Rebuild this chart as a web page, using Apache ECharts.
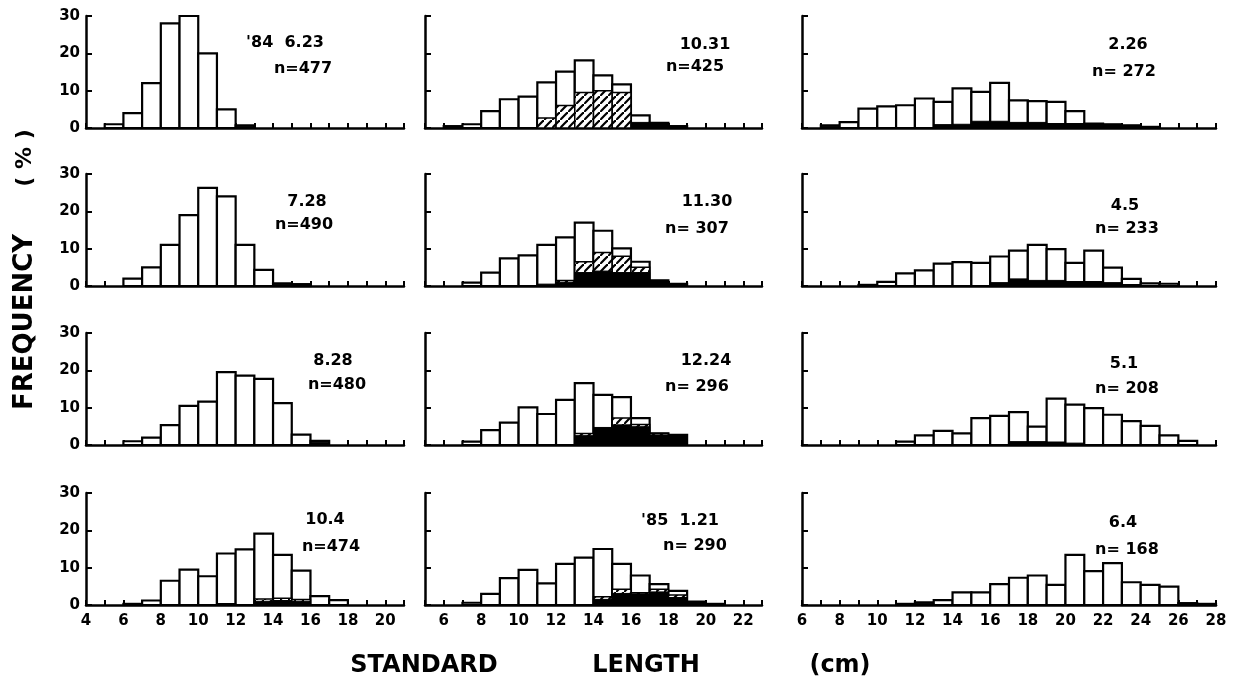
<!DOCTYPE html>
<html>
<head>
<meta charset="utf-8">
<script src="https://cdn.jsdelivr.net/npm/echarts@6/dist/echarts.min.js"></script>
<style>
  html, body { margin: 0; padding: 0; background: #fff; }
  #chart { width: 1235px; height: 691px; }
</style>
</head>
<body>
<div id="chart"></div>
<script>
// bin starts (cm) for each column of panels, every bin is 1 cm wide
const binsA = [4, 5, 6, 7, 8, 9, 10, 11, 12, 13, 14, 15, 16, 17, 18, 19, 20];
const binsB = [5, 6, 7, 8, 9, 10, 11, 12, 13, 14, 15, 16, 17, 18, 19, 20, 21, 22];
const binsC = [6, 7, 8, 9, 10, 11, 12, 13, 14, 15, 16, 17, 18, 19, 20, 21, 22, 23, 24, 25, 26, 27];

// column 1 ('84 6.23 .. 10.4), values in %
const jun23Total = [0, 1, 4, 12, 28, 30, 20, 5, 0.7];
const jun23Black = [0, 0, 0, 0, 0, 0, 0, 0, 0.5];
const jul28Total = [0, 0, 2, 5, 11, 19, 26.3, 24, 11, 4.3, 0.7, 0.5];
const jul28Black = [0, 0, 0, 0, 0, 0, 0, 0, 0, 0, 0.5, 0.4];
const aug28Total = [0, 0, 1, 2, 5.3, 10.5, 11.6, 19.5, 18.6, 17.7, 11.2, 2.8, 1.1];
const aug28Black = [0, 0, 0, 0, 0, 0, 0, 0, 0, 0, 0, 0, 0.7];
const oct4Total = [0, 0, 0.3, 1.2, 6.5, 9.5, 7.7, 13.8, 14.9, 19.1, 13.4, 9.2, 2.4, 1.3];
const oct4Hatch = [0, 0, 0, 0, 0, 0, 0, 0, 0, 1.6, 1.8, 1.5];
const oct4Black = [0, 0, 0, 0, 0, 0, 0, 0.4, 0, 1.0, 1.2, 1.0];

// column 2 (10.31 .. '85 1.21)
const oct31Total = [0, 0.5, 1, 4.5, 7.7, 8.4, 12.2, 15.1, 18.1, 14.1, 11.7, 3.4, 1.4, 0.5];
const oct31Hatch = [0, 0, 0, 0, 0, 0, 2.7, 6, 9.5, 10, 9.5];
const oct31Black = [0, 0, 0, 0, 0, 0, 0, 0, 0, 0, 0, 1.5, 1.2, 0.5];
const nov30Total = [0, 0, 0.9, 3.6, 7.4, 8.2, 11, 13, 17, 14.8, 10.1, 6.5, 1.5, 0.6];
const nov30Hatch = [0, 0, 0, 0, 0, 0, 0, 1.5, 6.5, 9, 8, 5];
const nov30Black = [0, 0, 0, 0, 0, 0, 0.5, 1, 3.6, 4, 3.6, 3.6, 1.5, 0.6];
const dec24Total = [0, 0, 0.9, 4, 6, 10.1, 8.3, 12.1, 16.6, 13.4, 12.8, 7.2, 3.1, 2.7];
const dec24Hatch = [0, 0, 0, 0, 0, 0, 0, 0, 3.1, 0, 7.2, 5.5, 3.1];
const dec24Black = [0, 0, 0, 0, 0, 0, 0, 0, 2.5, 4.7, 5.4, 4.9, 2.7, 2.5];
const jan21Total = [0, 0, 0.6, 3, 7.2, 9.4, 5.8, 11, 12.7, 15, 11, 7.9, 5.6, 3.8, 0.9, 0.3];
const jan21Hatch = [0, 0, 0, 0, 0, 0, 0, 0, 0, 2.2, 4.2, 3.3, 4.2, 2.7];
const jan21Black = [0, 0, 0, 0, 0, 0, 0, 0, 0, 1.5, 3.1, 3, 3.5, 2, 0.9, 0.3];

// column 3 (2.26 .. 6.4)
const feb26Total = [0, 0.7, 1.6, 5.2, 5.8, 6.1, 7.9, 7, 10.6, 9.7, 12.1, 7.4, 7.2, 7, 4.5, 1.2, 1, 0.7, 0.3];
const feb26Black = [0, 0.5, 0, 0, 0, 0, 0, 0.9, 1, 1.8, 1.8, 1.5, 1.5, 1.2, 1.2, 1.2, 1, 0.7, 0.3];
const may4Total = [0, 0, 0, 0.3, 1.1, 3.4, 4.2, 6, 6.4, 6.2, 7.9, 9.5, 11, 9.9, 6.2, 9.5, 4.9, 1.9, 0.7, 0.6];
const may4Black = [0, 0, 0, 0.3, 0, 0, 0, 0, 0, 0, 0.9, 1.9, 1.5, 1.5, 1.2, 1.2, 0.9, 0.4];
const may1Total = [0, 0, 0, 0, 0, 0.9, 2.6, 3.8, 3.1, 7.2, 7.8, 8.8, 4.9, 12.4, 10.8, 9.9, 8.1, 6.4, 5.1, 2.6, 1.1];
const may1Black = [0, 0, 0, 0, 0, 0, 0, 0, 0, 0, 0, 0.9, 0.9, 0.8, 0.5];
const jun4Total = [0, 0, 0, 0, 0, 0.3, 0.7, 1.3, 3.4, 3.4, 5.6, 7.3, 7.9, 5.4, 13.4, 9.1, 11.2, 6.1, 5.4, 4.9, 0.5, 0.3];
const jun4Black = [0, 0, 0, 0, 0, 0.3, 0.5];

const dateLabels = ["'84  6.23", '10.31', '2.26', '7.28', '11.30', '4.5',
                    '8.28', '12.24', '5.1', '10.4', "'85  1.21", '6.4'];
const nLabels = ['n=477', 'n=425', 'n= 272', 'n=490', 'n= 307', 'n= 233',
                 'n=480', 'n= 296', 'n= 208', 'n=474', 'n= 290', 'n= 168'];

// panels row by row
const panels = [
  { bins: binsA, total: jun23Total, hatch: [], black: jun23Black },
  { bins: binsB, total: oct31Total, hatch: oct31Hatch, black: oct31Black },
  { bins: binsC, total: feb26Total, hatch: [], black: feb26Black },
  { bins: binsA, total: jul28Total, hatch: [], black: jul28Black },
  { bins: binsB, total: nov30Total, hatch: nov30Hatch, black: nov30Black },
  { bins: binsC, total: may4Total, hatch: [], black: may4Black },
  { bins: binsA, total: aug28Total, hatch: [], black: aug28Black },
  { bins: binsB, total: dec24Total, hatch: dec24Hatch, black: dec24Black },
  { bins: binsC, total: may1Total, hatch: [], black: may1Black },
  { bins: binsA, total: oct4Total, hatch: oct4Hatch, black: oct4Black },
  { bins: binsB, total: jan21Total, hatch: jan21Hatch, black: jan21Black },
  { bins: binsC, total: jun4Total, hatch: [], black: jun4Black }
];

// layout
const FONT = '"DejaVu Sans", sans-serif';
const colGeom = [
  { left: 86, width: 318, min: 4, max: 21 },
  { left: 425, width: 337, min: 5, max: 23 },
  { left: 802, width: 414, min: 6, max: 28 }
];
const rowTops = [16, 174, 333, 493];
const rowHeight = 112;
// centres of the date / n annotations
const notePos = [
  [285, 43, 303, 69], [705, 45, 695, 67], [1128, 45, 1124, 72],
  [307, 202, 304, 225], [707, 202, 697, 229], [1125, 206, 1127, 229],
  [333, 361, 337, 385], [706, 361, 697, 387], [1124, 364, 1127, 389],
  [325, 520, 331, 547], [680, 521, 695, 546], [1123, 523, 1127, 550]
];

// diagonal hatching used for the striped part of the bars
function hatchCanvas() {
  const c = document.createElement('canvas');
  c.width = 8; c.height = 8;
  const ctx = c.getContext('2d');
  ctx.fillStyle = '#fff';
  ctx.fillRect(0, 0, 8, 8);
  ctx.strokeStyle = '#000';
  ctx.lineWidth = 2.2;
  ctx.beginPath();
  ctx.moveTo(-1, 9); ctx.lineTo(9, -1);
  ctx.stroke();
  return c;
}
const hatchFill = { image: hatchCanvas(), repeat: 'repeat' };

function toData(bins, arr) {
  const out = [];
  bins.forEach((b, i) => { if (arr[i]) out.push([b, arr[i]]); });
  return out;
}

function barRenderer(style) {
  return function (params, api) {
    const x0 = api.value(0), v = api.value(1);
    const a = api.coord([x0, 0]);
    const b = api.coord([x0 + 1, v]);
    return {
      type: 'rect',
      shape: { x: a[0], y: b[1], width: b[0] - a[0], height: a[1] - b[1] },
      style: style
    };
  };
}

const grids = [], xAxes = [], yAxes = [], series = [], graphics = [];
panels.forEach((p, i) => {
  const row = Math.floor(i / 3), col = i % 3;
  const g = colGeom[col];
  grids.push({ left: g.left, top: rowTops[row], width: g.width, height: rowHeight });
  xAxes.push({
    type: 'value', gridIndex: i, min: g.min, max: g.max, interval: 1,
    axisLine: { show: true, lineStyle: { color: '#000', width: 2.5 } },
    axisTick: { show: true, inside: true, length: 5, lineStyle: { color: '#000', width: 2 } },
    axisLabel: {
      show: row === 3, color: '#000', fontFamily: FONT, fontWeight: 'bold', fontSize: 15, margin: 9,
      formatter: v => (v % 2 === 0 ? String(v) : '')
    },
    splitLine: { show: false }
  });
  yAxes.push({
    type: 'value', gridIndex: i, min: 0, max: 30, interval: 10,
    axisLine: { show: true, lineStyle: { color: '#000', width: 2.5 } },
    axisTick: { show: true, inside: true, length: 6, lineStyle: { color: '#000', width: 2 } },
    axisLabel: { show: col === 0, color: '#000', fontFamily: FONT, fontWeight: 'bold', fontSize: 15, margin: 6 },
    splitLine: { show: false }
  });
  const common = { type: 'custom', coordinateSystem: 'cartesian2d', xAxisIndex: i, yAxisIndex: i,
                   encode: { x: 0, y: 1 }, silent: true, animation: false };
  series.push(Object.assign({}, common, {
    data: toData(p.bins, p.total),
    renderItem: barRenderer({ fill: '#fff', stroke: '#000', lineWidth: 2.2 })
  }));
  series.push(Object.assign({}, common, {
    data: toData(p.bins, p.hatch),
    renderItem: barRenderer({ fill: hatchFill, stroke: '#000', lineWidth: 1.5 })
  }));
  series.push(Object.assign({}, common, {
    data: toData(p.bins, p.black),
    renderItem: barRenderer({ fill: '#000', stroke: '#000', lineWidth: 1 })
  }));
  const np = notePos[i];
  graphics.push({ type: 'text', x: np[0], y: np[1], silent: true,
    style: { text: dateLabels[i], font: 'bold 16px ' + FONT, fill: '#000',
             align: 'center', verticalAlign: 'middle' } });
  graphics.push({ type: 'text', x: np[2], y: np[3], silent: true,
    style: { text: nLabels[i], font: 'bold 16px ' + FONT, fill: '#000',
             align: 'center', verticalAlign: 'middle' } });
});

// axis titles
graphics.push({ type: 'text', x: 25, y: 322, rotation: Math.PI / 2, silent: true,
  style: { text: 'FREQUENCY', font: 'bold 26px ' + FONT, fill: '#000', align: 'center', verticalAlign: 'middle' } });
graphics.push({ type: 'text', x: 25, y: 158, rotation: Math.PI / 2, silent: true,
  style: { text: '( % )', font: 'bold 22px ' + FONT, fill: '#000', align: 'center', verticalAlign: 'middle' } });
graphics.push({ type: 'text', x: 424, y: 666, silent: true,
  style: { text: 'STANDARD', font: 'bold 24px ' + FONT, fill: '#000', align: 'center', verticalAlign: 'middle' } });
graphics.push({ type: 'text', x: 646, y: 666, silent: true,
  style: { text: 'LENGTH', font: 'bold 24px ' + FONT, fill: '#000', align: 'center', verticalAlign: 'middle' } });
graphics.push({ type: 'text', x: 840, y: 666, silent: true,
  style: { text: '(cm)', font: 'bold 24px ' + FONT, fill: '#000', align: 'center', verticalAlign: 'middle' } });

const myChart = echarts.init(document.getElementById('chart'));
myChart.setOption({
  backgroundColor: '#fff',
  animation: false,
  grid: grids,
  xAxis: xAxes,
  yAxis: yAxes,
  series: series,
  graphic: graphics
});
</script>
</body>
</html>
